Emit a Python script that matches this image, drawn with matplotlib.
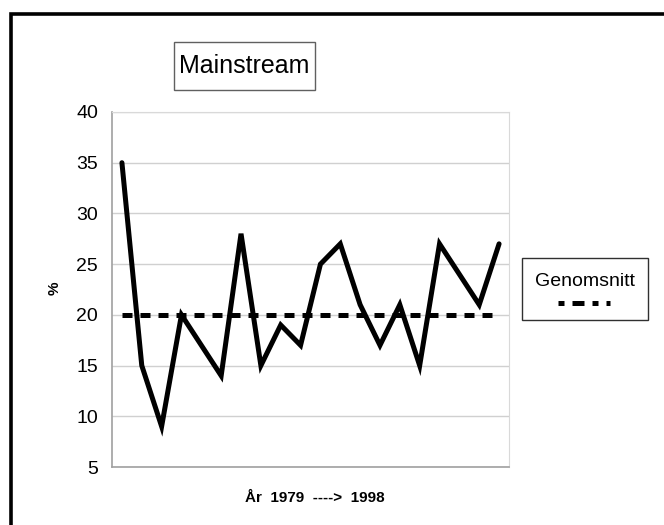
import matplotlib
matplotlib.use('Agg')
import matplotlib.pyplot as plt
from matplotlib.lines import Line2D
from matplotlib.patches import Rectangle

plt.rcParams['font.family'] = ['Liberation Sans', 'DejaVu Sans']

# andel mainstream per år, 1979-1998
years = list(range(1979, 1999))
values = [35, 15, 9, 20, 17, 14, 28, 15, 19, 17, 25, 27, 21, 17, 21, 15, 27, 24, 21, 27]
average = [20] * len(years)
y_ticks = [5, 10, 15, 20, 25, 30, 35, 40]

fig = plt.figure(figsize=(6.64, 5.25), dpi=100)
ax = fig.add_axes([112/664, 1 - 467/525, 397/664, 355/525])

x = list(range(len(years)))
ax.plot(x, values, color='black', lw=3.6, solid_joinstyle='miter', solid_capstyle='round', zorder=3)
ax.plot(x, average, color='black', lw=3.6, dashes=(2, 1.6), dash_capstyle='butt', zorder=2)

ax.set_xlim(-0.5, len(years) - 0.5)
ax.set_ylim(5, 40)
ax.set_yticks(y_ticks)
ax.set_xticks([])
ax.yaxis.grid(True, color='#D0D0D0', lw=1)
ax.set_axisbelow(True)
ax.tick_params(axis='y', length=0, pad=10, labelsize=14)
for s in ['top', 'right']:
    ax.spines[s].set_color('#D9D9D9')
for s in ['left', 'bottom']:
    ax.spines[s].set_color('#A0A0A0')
    ax.spines[s].set_linewidth(1.2)

fig.text(55/664, 1 - 288/525, '%', rotation=90, fontsize=11, fontweight='bold',
         ha='center', va='center')
fig.text(315/664, 1 - 498/525, 'År  1979  ---->  1998', fontsize=11, fontweight='bold',
         ha='center', va='center')

# titel i ruta
fig.add_artist(Rectangle((174/664, 1 - 90/525), 141/664, 48/525,
                         transform=fig.transFigure, fill=False, ec='#606060', lw=1))
fig.text(244.5/664, 1 - 66/525, 'Mainstream', fontsize=18, ha='center', va='center')

# förklaring
fig.add_artist(Rectangle((521.7/664, 1 - 320/525), 126.3/664, 62/525,
                         transform=fig.transFigure, fill=False, ec='#303030', lw=1))
fig.text(585/664, 1 - 281/525, 'Genomsnitt', fontsize=14, ha='center', va='center')
fig.add_artist(Line2D([558/664, 610/664], [1 - 303/525, 1 - 303/525], transform=fig.transFigure,
                      color='black', lw=3.6, dashes=(1.2, 1.6, 2.4, 1.6), dash_capstyle='butt'))

# ram runt diagrammet
fig.add_artist(Line2D([10.5/664, 10.5/664, 1.0], [0.0, 1 - 13.5/525, 1 - 13.5/525],
                      transform=fig.transFigure, color='black', lw=2.6,
                      solid_joinstyle='miter'))

fig.savefig('out.png', dpi=100)
